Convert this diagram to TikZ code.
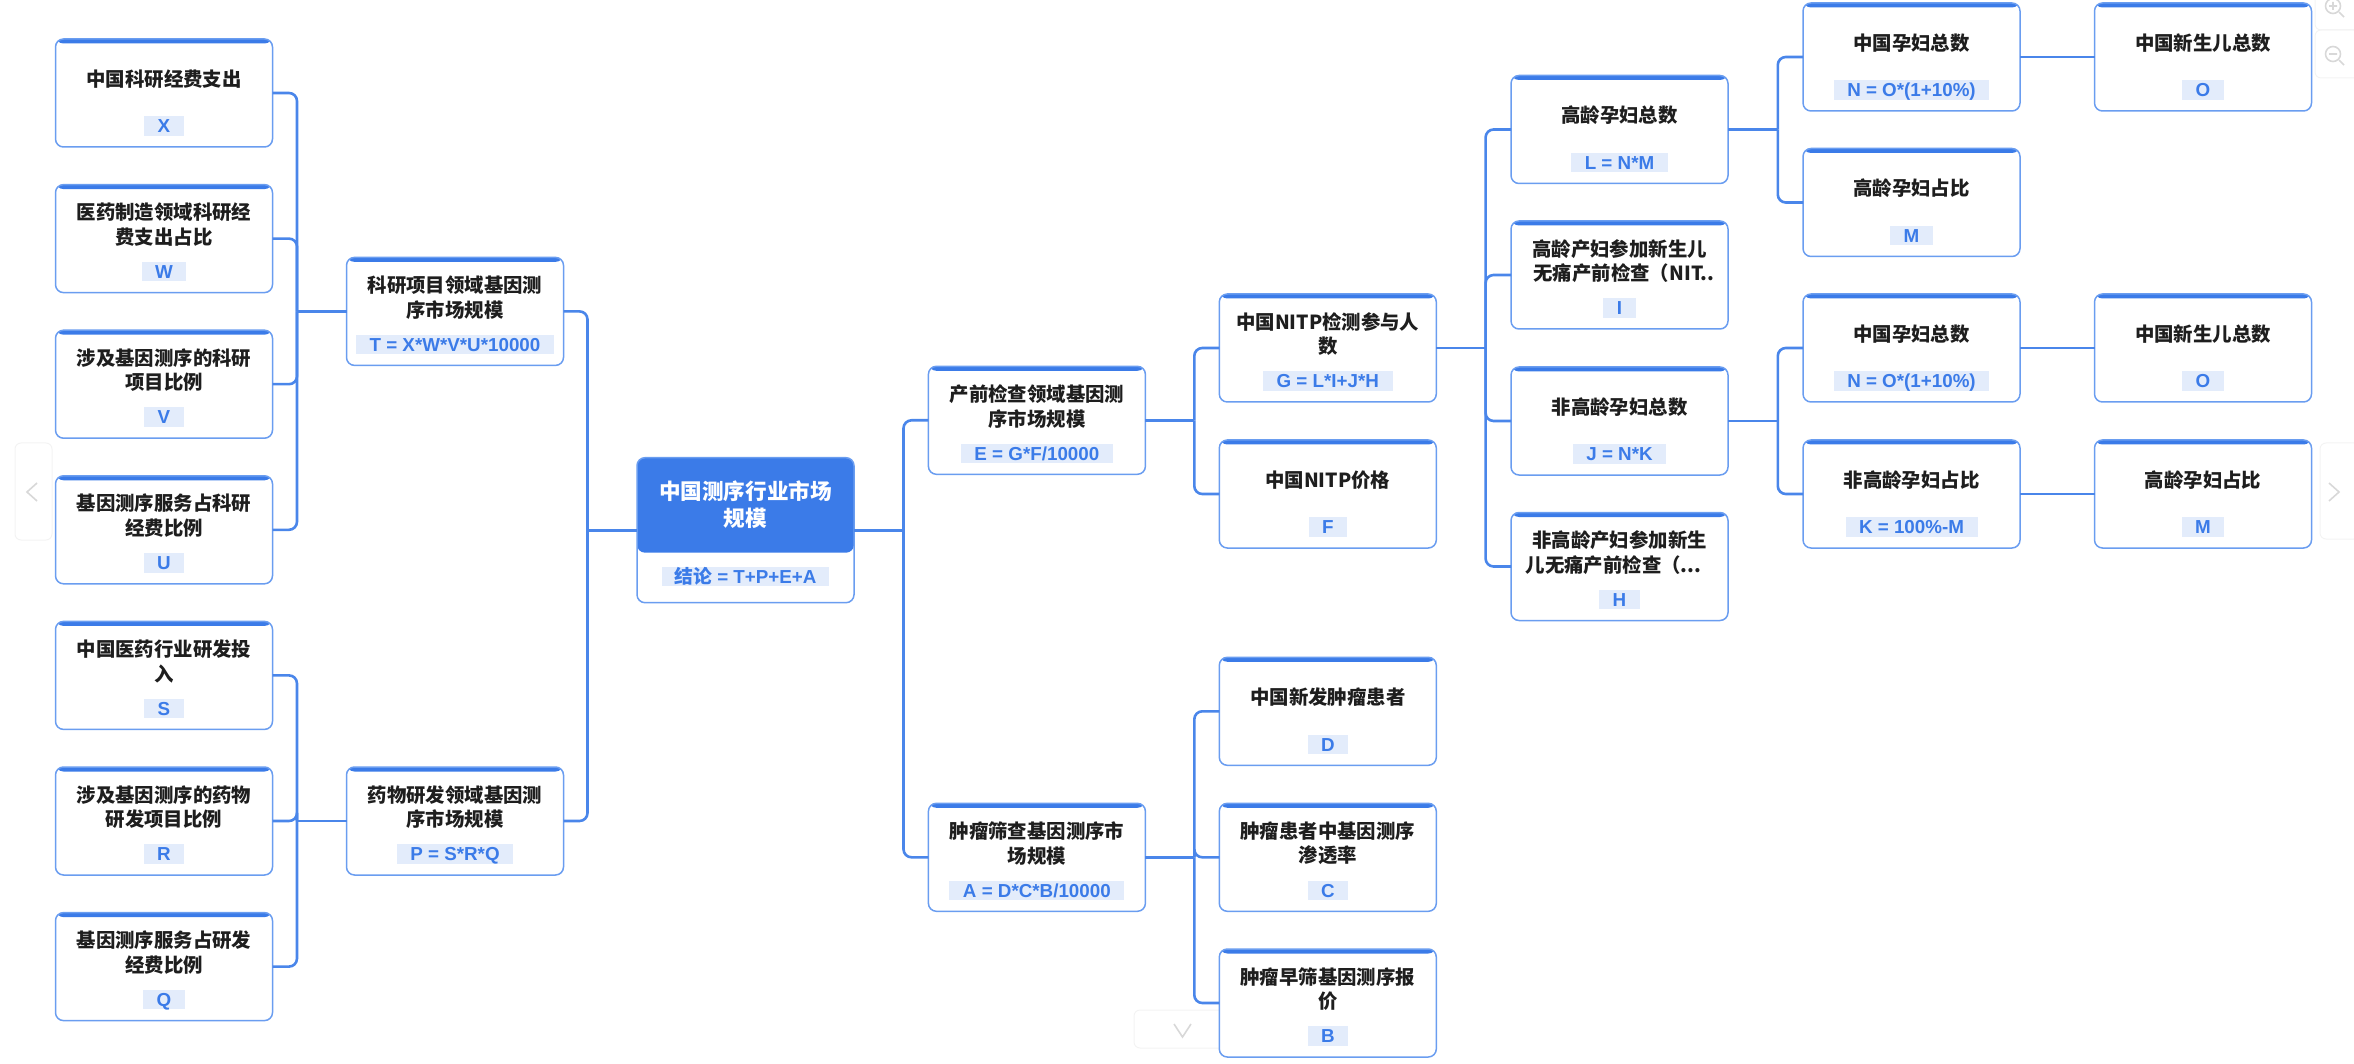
\documentclass[tikz,border=0pt]{standalone}
\usepackage{fontspec}
\setmainfont{Liberation Sans}
\newfontfamily\cjk{Noto Sans CJK SC}
\newfontfamily\tagfont{Liberation Sans Bold}
\definecolor{mainblue}{HTML}{3B7BE8}
\definecolor{edgeblue}{HTML}{6A9DF0}
\definecolor{wireblue}{HTML}{4A86EA}
\definecolor{tagfill}{HTML}{E3ECFB}
\definecolor{titleink}{HTML}{1E1E1E}
\definecolor{faintbox}{HTML}{F3F3F3}
\definecolor{faintmark}{HTML}{D8D8D8}
\tikzset{
  cardbox/.style={draw=edgeblue,line width=1.5pt,fill=white,rounded corners=8pt,outer sep=0pt,inner sep=0pt,
    minimum width=217pt,minimum height=108pt,anchor=north west,
    path picture={\fill[mainblue] (path picture bounding box.north west) rectangle ([yshift=-4.5pt]path picture bounding box.north east);}},
  rootbox/.style={draw=edgeblue,line width=1.5pt,fill=white,rounded corners=8pt,outer sep=0pt,inner sep=0pt,
    minimum width=217pt,minimum height=145pt,anchor=north west,
    path picture={\fill[mainblue] (path picture bounding box.north west) rectangle ([yshift=-95pt]path picture bounding box.north east);}},
  titletext/.style={font=\cjk\bfseries\fontsize{19.4pt}{24.7pt}\selectfont,text=titleink,align=center,inner sep=0pt},
  roottext/.style={font=\cjk\bfseries\fontsize{21.6pt}{27pt}\selectfont,text=white,align=center,inner sep=0pt},
  tagtext/.style={font=\tagfont\fontsize{18.8pt}{20pt}\selectfont,text=mainblue,fill=tagfill,inner xsep=13.5pt,inner ysep=0pt,
    minimum height=19.5pt,text height=13.5pt,text depth=0pt},
  wire/.style={draw=wireblue,line width=2.6pt},
  wirecurve/.style={wire,rounded corners=8pt},
  faint/.style={draw=faintbox,line width=1pt,rounded corners=6pt},
  glyphline/.style={draw=faintmark,line width=1.6pt},
}
\newcommand{\cardnode}[5]{%
  \node[cardbox] (#1) at (#2,#3) {};
  \node[titletext] (#1t) at ([yshift=-40pt]#1.north) {#4};
  \node[tagtext] (#1f) at ([yshift=-87pt]#1.north) {#5};
}
\newcommand{\toright}[3]{%
  \draw[wire] (#1.east) -- (#1.east -| #2);
  \foreach \kid in {#3} \draw[wirecurve] (#1.east -| #2) -- (\kid.west -| #2) -- (\kid.west);
}
\newcommand{\toleft}[3]{%
  \draw[wire] (#1.west) -- (#1.west -| #2);
  \foreach \kid in {#3} \draw[wirecurve] (#1.west -| #2) -- (\kid.east -| #2) -- (\kid.east);
}
\begin{document}
\begin{tikzpicture}[x=1pt,y=-1pt]
\useasboundingbox (0,0) rectangle (2354,1064);
% interface marks
\draw[faint] (15,443) rectangle (52,540);
\draw[glyphline] (37,483) -- (27,492) -- (37,501);
\draw[faint] (2320,443) rectangle (2360,539);
\draw[glyphline] (2329,483) -- (2339,492) -- (2329,501);
\draw[faint] (1134,1010) rectangle (1230,1048);
\draw[glyphline] (1174,1024) -- (1182.5,1037) -- (1191,1024);
\draw[faint] (2315,-10) rectangle (2360,30);
\draw[faint] (2315,30) rectangle (2360,78);
\draw[glyphline] (2333,6) circle [radius=7.5pt];
\draw[glyphline] (2329,6) -- (2337,6) (2333,2) -- (2333,10) (2339,12) -- (2344,17);
\draw[glyphline] (2333,54) circle [radius=7.5pt];
\draw[glyphline] (2329,54) -- (2337,54) (2339,60) -- (2344,65);
% bus positions
\coordinate (busA) at (297,0);
\coordinate (busB) at (587.5,0);
\coordinate (busC) at (903.5,0);
\coordinate (busD) at (1194.3,0);
\coordinate (busE) at (1485.6,0);
\coordinate (busF) at (1777.8,0);
% left columns
\cardnode{x}{55.5}{39}{中国科研经费支出}{X}
\cardnode{w}{55.5}{184.6}{医药制造领域科研经\\费支出占比}{W}
\cardnode{v}{55.5}{330.2}{涉及基因测序的科研\\项目比例}{V}
\cardnode{u}{55.5}{475.8}{基因测序服务占科研\\经费比例}{U}
\cardnode{s}{55.5}{621.4}{中国医药行业研发投\\入}{S}
\cardnode{r}{55.5}{767}{涉及基因测序的药物\\研发项目比例}{R}
\cardnode{q}{55.5}{912.6}{基因测序服务占研发\\经费比例}{Q}
\cardnode{t}{346.5}{257.4}{科研项目领域基因测\\序市场规模}{T = X*W*V*U*10000}
\cardnode{p}{346.5}{767}{药物研发领域基因测\\序市场规模}{P = S*R*Q}
% root
\node[rootbox] (root) at (637,457.7) {};
\node[roottext] (roott) at ([yshift=-46.5pt]root.north) {中国测序行业市场\\规模};
\node[tagtext,inner xsep=12pt] (rootf) at ([yshift=-119pt]root.north) {{\cjk\bfseries 结论} = T+P+E+A};
% right columns
\cardnode{e}{928.4}{366.3}{产前检查领域基因测\\序市场规模}{E = G*F/10000}
\cardnode{a}{928.4}{803.3}{肿瘤筛查基因测序市\\场规模}{A = D*C*B/10000}
\cardnode{g}{1219.3}{294}{中国NITP检测参与人\\数}{G = L*I+J*H}
\cardnode{f}{1219.3}{440}{中国NITP价格}{F}
\cardnode{d}{1219.3}{657.3}{中国新发肿瘤患者}{D}
\cardnode{c}{1219.3}{803.3}{肿瘤患者中基因测序\\渗透率}{C}
\cardnode{b}{1219.3}{949}{肿瘤早筛基因测序报\\价}{B}
\cardnode{l}{1511}{75.5}{高龄孕妇总数}{L = N*M}
\cardnode{i}{1511}{221}{高龄产妇参加新生儿\\\hspace*{9pt}无痛产前检查（NIT..}{I}
\cardnode{j}{1511}{367}{非高龄孕妇总数}{J = N*K}
\cardnode{h}{1511}{512.5}{非高龄产妇参加新生\\儿无痛产前检查（...\hspace*{12pt}}{H}
\cardnode{na}{1803}{3}{中国孕妇总数}{N = O*(1+10\%)}
\cardnode{ma}{1803}{148.5}{高龄孕妇占比}{M}
\cardnode{nb}{1803}{294}{中国孕妇总数}{N = O*(1+10\%)}
\cardnode{k}{1803}{440}{非高龄孕妇占比}{K = 100\%-M}
\cardnode{oa}{2094.5}{3}{中国新生儿总数}{O}
\cardnode{ob}{2094.5}{294}{中国新生儿总数}{O}
\cardnode{mb}{2094.5}{440}{高龄孕妇占比}{M}
% connectors
\toleft{t}{busA}{x,w,v,u}
\toleft{p}{busA}{s,r,q}
\toleft{root}{busB}{t,p}
\toright{root}{busC}{e,a}
\toright{e}{busD}{g,f}
\toright{a}{busD}{d,c,b}
\toright{g}{busE}{l,i,j,h}
\toright{l}{busF}{na,ma}
\toright{j}{busF}{nb,k}
\draw[wire] (na.east) -- (oa.west);
\draw[wire] (nb.east) -- (ob.west);
\draw[wire] (k.east) -- (mb.west);
\end{tikzpicture}
\end{document}
